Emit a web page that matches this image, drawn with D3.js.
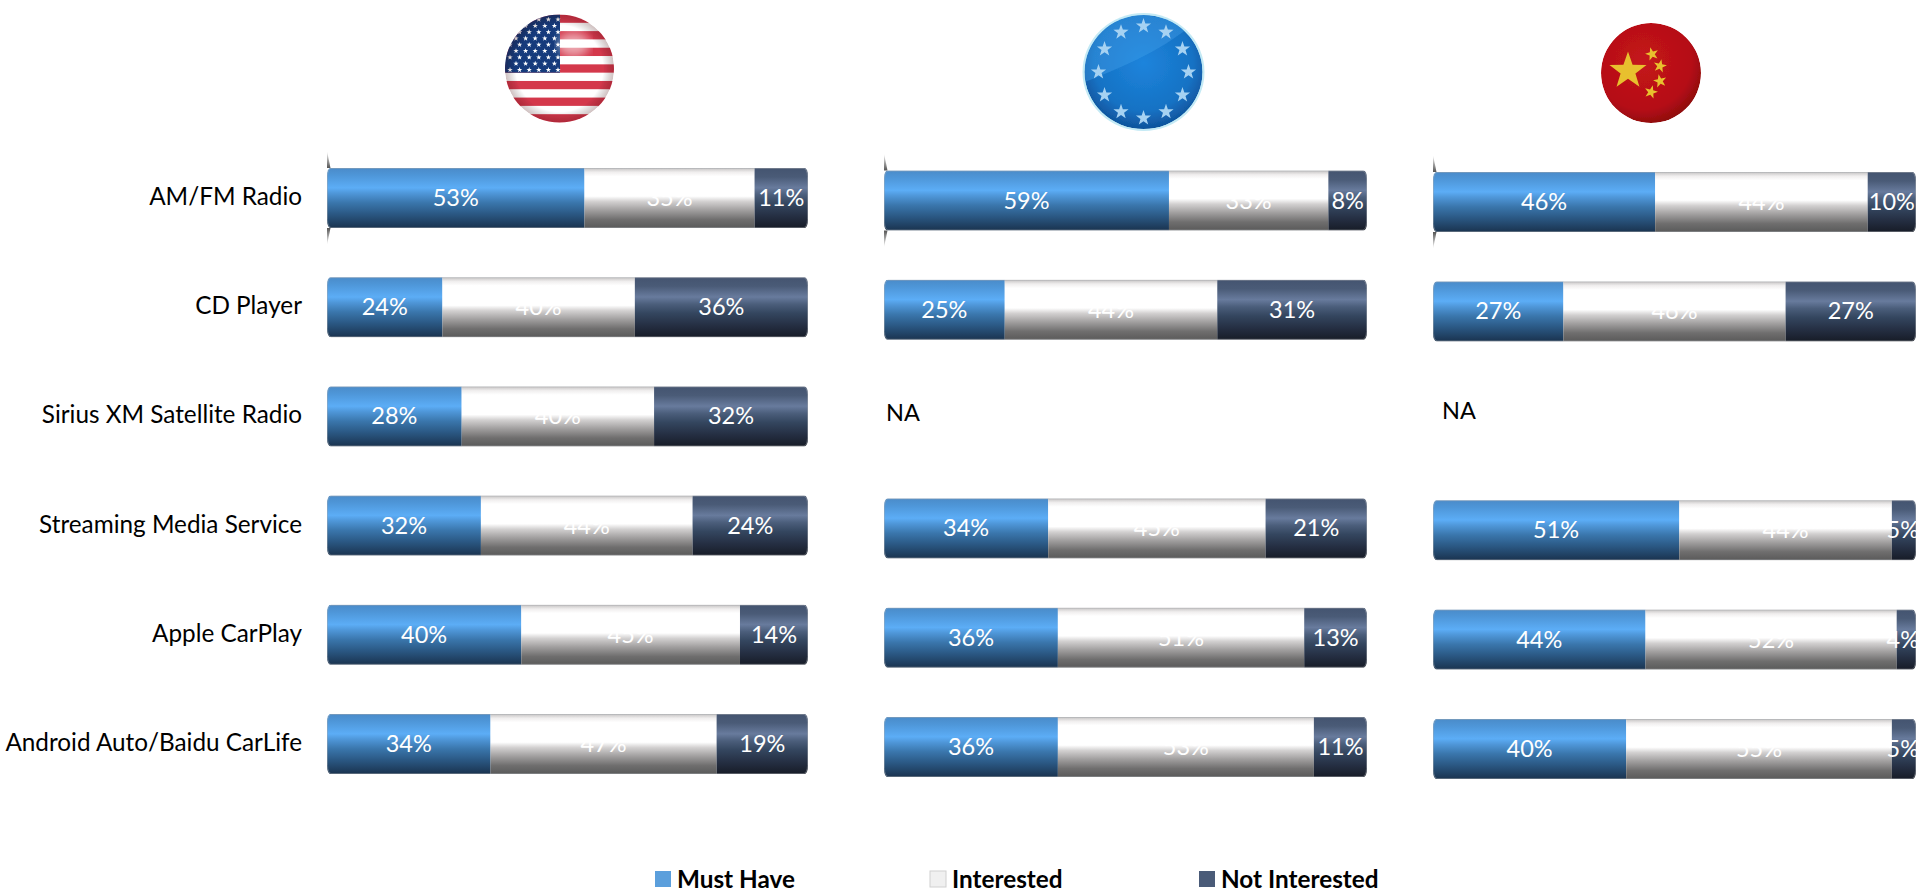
<!DOCTYPE html>
<html>
<head>
<meta charset="utf-8">
<script src="https://cdnjs.cloudflare.com/ajax/libs/d3/7.8.5/d3.min.js"></script>
<style>
  html, body { margin: 0; padding: 0; background: #fff; overflow: hidden; }
  svg { display: block; }
  text { font-family: Lato, "Open Sans", sans-serif; }
</style>
</head>
<body>
<svg id="chart" width="1921" height="893"></svg>
<script>
// Feature interest by region, one 100% stacked bar per infotainment feature.
const categories = ["AM/FM Radio", "CD Player", "Sirius XM Satellite Radio",
  "Streaming Media Service", "Apple CarPlay", "Android Auto/Baidu CarLife"];
const seriesNames = ["Must Have", "Interested", "Not Interested"];

const usMustHave = [53, 24, 28, 32, 40, 34];
const usInterested = [35, 40, 40, 44, 45, 47];
const usNotInterested = [11, 36, 32, 24, 14, 19];

const euMustHave = [59, 25, null, 34, 36, 36];
const euInterested = [33, 44, null, 45, 51, 53];
const euNotInterested = [8, 31, null, 21, 13, 11];

const cnMustHave = [46, 27, null, 51, 44, 40];
const cnInterested = [44, 46, null, 44, 52, 55];
const cnNotInterested = [10, 27, null, 5, 4, 5];

const panels = [
  { id: "us", values: [usMustHave, usInterested, usNotInterested], x: [327, 808], y: [168, 714] },
  { id: "eu", values: [euMustHave, euInterested, euNotInterested], x: [884, 1367], y: [170.5, 717], na: [886, 421] },
  { id: "cn", values: [cnMustHave, cnInterested, cnNotInterested], x: [1433, 1916], y: [172, 719], na: [1442, 419] }
];

const barHeight = 60;
const pageWidth = 1921;
const svg = d3.select("#chart");
const defs = svg.append("defs");

function linearGradient(id, stops) {
  const g = defs.append("linearGradient").attr("id", id)
    .attr("x1", 0).attr("y1", 0).attr("x2", 0).attr("y2", 1);
  stops.forEach(([o, c]) => g.append("stop").attr("offset", o).attr("stop-color", c));
}

// Cylinder shading for each series
linearGradient("fill-0", [[0, "#4a8bc9"], [0.12, "#4e96d8"], [0.33, "#5cadf6"], [0.42, "#4f97d9"],
  [0.58, "#3a76ac"], [0.76, "#2b5985"], [1, "#1a334f"]]);
linearGradient("fill-1", [[0, "#c4c2c2"], [0.07, "#f0eeee"], [0.14, "#ffffff"], [0.47, "#ffffff"],
  [0.56, "#d2d0d0"], [0.7, "#a2a0a0"], [0.86, "#6f6e6e"], [1, "#5a5a5a"]]);
linearGradient("fill-2", [[0, "#445470"], [0.15, "#4a5b77"], [0.33, "#687b9d"], [0.45, "#4b5e7b"],
  [0.6, "#34465f"], [0.8, "#252f43"], [1, "#171c27"]]);
linearGradient("tick-up", [[0, "#ffffff"], [1, "#555555"]]);
linearGradient("tick-down", [[0, "#555555"], [1, "#ffffff"]]);

defs.append("filter").attr("id", "soft").append("feGaussianBlur").attr("stdDeviation", 0.7);
defs.append("filter").attr("id", "glow").append("feGaussianBlur").attr("stdDeviation", 5);

const legendColors = ["#5b9fdc", "#f0f0f0", "#4a5b78"];

// Bars, one panel per region
panels.forEach(panel => {
  const rows = categories
    .map((name, i) => ({
      name,
      [seriesNames[0]]: panel.values[0][i],
      [seriesNames[1]]: panel.values[1][i],
      [seriesNames[2]]: panel.values[2][i]
    }));
  const present = rows.filter(r => r[seriesNames[0]] !== null);
  const stacked = d3.stack().keys(seriesNames).offset(d3.stackOffsetExpand)(present);

  const x = d3.scaleLinear().domain([0, 1]).range(panel.x);
  const y = d3.scalePoint().domain(categories).range(panel.y);
  const g = svg.append("g").attr("class", "panel-" + panel.id);

  present.forEach((row, r) => {
    const clipId = `clip-${panel.id}-${r}`;
    defs.append("clipPath").attr("id", clipId).append("rect")
      .attr("x", x(0)).attr("y", y(row.name))
      .attr("width", x(1) - x(0)).attr("height", barHeight)
      .attr("rx", 3.5).attr("ry", 8);
    const rowG = g.append("g");
    const marks = rowG.append("g").attr("clip-path", `url(#${clipId})`);
    stacked.forEach((layer, s) => {
      marks.append("rect")
        .attr("x", x(layer[r][0]))
        .attr("y", y(row.name))
        .attr("width", x(layer[r][1]) - x(layer[r][0]))
        .attr("height", barHeight)
        .attr("fill", `url(#fill-${s})`);
    });
    // Rim of the cylinder
    rowG.append("rect")
      .attr("x", x(0) + 0.5).attr("y", y(row.name) + 0.5)
      .attr("width", x(1) - x(0) - 1).attr("height", barHeight - 1)
      .attr("rx", 3.5).attr("ry", 8)
      .attr("fill", "none").attr("stroke", "#a4a9ae").attr("stroke-opacity", 0.45);
    // Value labels sit over everything; white on white fades into the highlight
    stacked.forEach((layer, s) => {
      const label = rowG.append("text")
        .attr("x", (x(layer[r][0]) + x(layer[r][1])) / 2)
        .attr("y", y(row.name) + barHeight / 2 + 8)
        .attr("text-anchor", "middle")
        .attr("font-size", 23.5)
        .attr("fill", "#fff")
        .text(row[seriesNames[s]] + "%");
      // Narrow end segments: keep the whole label on the page
      const node = label.node();
      const overflow = +label.attr("x") + node.getComputedTextLength() / 2 - (pageWidth - 2);
      if (overflow > 0) label.attr("x", +label.attr("x") - overflow);
    });
  });

  // Axis line, visible just above and below the first bar
  const first = y(categories[0]);
  const x0 = x(0);
  g.append("path").attr("fill", "url(#tick-up)")
    .attr("d", `M${x0},${first - 17}L${x0 + 3.5},${first}H${x0}Z`);
  g.append("path").attr("fill", "url(#tick-down)")
    .attr("d", `M${x0},${first + barHeight}H${x0 + 3.5}L${x0},${first + barHeight + 17}Z`);

  if (panel.na) {
    g.append("text").attr("x", panel.na[0]).attr("y", panel.na[1])
      .attr("font-size", 23.5).attr("fill", "#000").text("NA");
  }
});

// Category labels
const labelY = d3.scalePoint().domain(categories).range([197, 743]);
svg.append("g").selectAll("text").data(categories).join("text")
  .attr("x", 302)
  .attr("y", d => labelY(d) + 8)
  .attr("text-anchor", "end")
  .attr("font-size", 24.3)
  .attr("fill", "#000")
  .text(d => d);

// Legend
const legendX = [655, 930, 1199];
const legendG = svg.append("g").selectAll("g").data(seriesNames).join("g")
  .attr("transform", (d, i) => `translate(${legendX[i]},871)`);
legendG.append("rect").attr("width", 16).attr("height", 16)
  .attr("fill", (d, i) => legendColors[i])
  .attr("stroke", (d, i) => i === 1 ? "#d0d0d0" : "none");
legendG.append("text").attr("x", 22).attr("y", 17)
  .attr("font-size", 24.3).attr("font-weight", 700).attr("fill", "#000")
  .text(d => d);

// Five-pointed star centred on the origin
function starPath(r) {
  const pts = d3.range(10).map(i => {
    const a = -Math.PI / 2 + i * Math.PI / 5;
    const rad = i % 2 ? r * 0.4 : r;
    return [rad * Math.cos(a), rad * Math.sin(a)];
  });
  return d3.line()(pts) + "Z";
}

function flagGroup(id, cx, cy, rx, ry) {
  defs.append("clipPath").attr("id", "flag-" + id).append("ellipse")
    .attr("cx", cx).attr("cy", cy).attr("rx", rx).attr("ry", ry);
  return svg.append("g").attr("filter", "url(#soft)")
    .append("g").attr("clip-path", `url(#flag-${id})`);
}

// United States
(function () {
  const cx = 559.5, cy = 68.5, rx = 54.5, ry = 54;
  const f = flagGroup("us", cx, cy, rx, ry);
  const stripeY = d3.scaleBand().domain(d3.range(13)).range([cy - ry, cy + ry]);
  f.selectAll("rect.stripe").data(d3.range(13)).join("rect")
    .attr("x", cx - rx).attr("width", 2 * rx)
    .attr("y", d => stripeY(d)).attr("height", stripeY.bandwidth() + 0.5)
    .attr("fill", d => d % 2 ? "#ffffff" : "#d4384c");
  f.append("rect").attr("x", cx - rx).attr("y", cy - ry)
    .attr("width", 55).attr("height", stripeY.bandwidth() * 7).attr("fill", "#123a7c");
  d3.range(9).forEach(row => {
    const count = row % 2 ? 5 : 6;
    d3.range(count).forEach(col => {
      f.append("path").attr("d", starPath(2.8)).attr("fill", "#fff")
        .attr("transform", `translate(${cx - rx + (row % 2 ? 11 : 5) + col * 9.6},${cy - ry + 5 + row * 6.3})`);
    });
  });
  const sheen = defs.append("radialGradient").attr("id", "us-sheen").attr("cx", 0.5).attr("cy", 0.5).attr("r", 0.5);
  sheen.append("stop").attr("offset", 0.8).attr("stop-color", "#000").attr("stop-opacity", 0);
  sheen.append("stop").attr("offset", 1).attr("stop-color", "#400").attr("stop-opacity", 0.25);
  f.append("ellipse").attr("cx", cx).attr("cy", cy).attr("rx", rx).attr("ry", ry).attr("fill", "url(#us-sheen)");
  f.append("ellipse").attr("cx", cx + 14).attr("cy", cy - 24).attr("rx", 16).attr("ry", 12)
    .attr("fill", "#fff").attr("opacity", 0.55).attr("filter", "url(#glow)");
})();

// European Union
(function () {
  const cx = 1143.5, cy = 72, rx = 59, ry = 57;
  const base = defs.append("radialGradient").attr("id", "eu-base").attr("cx", 0.5).attr("cy", 0.42).attr("r", 0.6);
  base.append("stop").attr("offset", 0).attr("stop-color", "#1d84dc");
  base.append("stop").attr("offset", 0.7).attr("stop-color", "#1672c4");
  base.append("stop").attr("offset", 1).attr("stop-color", "#0f4f96");
  svg.append("ellipse").attr("cx", cx).attr("cy", cy).attr("rx", rx + 2).attr("ry", ry + 2)
    .attr("fill", "#c4eaf5").attr("filter", "url(#soft)");
  const f = flagGroup("eu", cx, cy, rx, ry);
  f.append("ellipse").attr("cx", cx).attr("cy", cy).attr("rx", rx).attr("ry", ry).attr("fill", "url(#eu-base)");
  f.append("path").attr("fill", "#4aa6ee").attr("opacity", 0.35)
    .attr("d", `M${cx - rx},${cy + 10}C${cx - 20},${cy - 5} ${cx + 25},${cy - 25} ${cx + rx - 8},${cy - 50}L${cx},${cy - ry}L${cx - rx},${cy - ry}Z`);
  d3.range(12).forEach(i => {
    const a = -Math.PI / 2 + i * Math.PI / 6;
    f.append("path").attr("d", starPath(8)).attr("fill", "#a6d2f2")
      .attr("transform", `translate(${cx + 45 * Math.cos(a)},${cy + 46 * Math.sin(a)})`);
  });
})();

// China
(function () {
  const cx = 1651, cy = 73, r = 50;
  const base = defs.append("radialGradient").attr("id", "cn-base").attr("cx", 0.42).attr("cy", 0.38).attr("r", 0.65);
  base.append("stop").attr("offset", 0).attr("stop-color", "#c4141b");
  base.append("stop").attr("offset", 0.75).attr("stop-color", "#b50f15");
  base.append("stop").attr("offset", 1).attr("stop-color", "#8c0a0e");
  const f = flagGroup("cn", cx, cy, r, r);
  f.append("circle").attr("cx", cx).attr("cy", cy).attr("r", r).attr("fill", "url(#cn-base)");
  f.append("path").attr("d", starPath(19.5)).attr("fill", "#e8c02e")
    .attr("transform", `translate(${cx - 23},${cy - 2})`);
  [[1, -19, -15], [9, -7, 12], [9, 8, -12], [0, 19, 15]].forEach(([dx, dy, rot]) => {
    f.append("path").attr("d", starPath(7)).attr("fill", "#e8c02e")
      .attr("transform", `translate(${cx + dx},${cy + dy}) rotate(${rot})`);
  });
})();
</script>
</body>
</html>
